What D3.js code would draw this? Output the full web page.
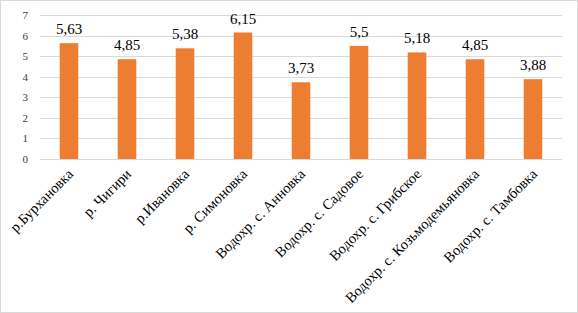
<!DOCTYPE html>
<html>
<head>
<meta charset="utf-8">
<script src="https://cdn.jsdelivr.net/npm/d3@7"></script>
<style>
  body { margin: 0; background: #fff; }
  svg { display: block; }
  svg text { font-family: "Liberation Serif", Tinos, "Times New Roman", "DejaVu Serif", "Noto Serif", serif; }
</style>
</head>
<body>
<script>
var categories = ["р.Бурхановка", "р. Чигири", "р.Ивановка", "р. Симоновка",
  "Водохр. с. Анновка", "Водохр. с. Садовое", "Водохр. с. Грибское",
  "Водохр. с. Козьмодемьяновка", "Водохр. с. Тамбовка"];
var values = [5.63, 4.85, 5.38, 6.15, 3.73, 5.5, 5.18, 4.85, 3.88];
var valueLabels = ["5,63", "4,85", "5,38", "6,15", "3,73", "5,5", "5,18", "4,85", "3,88"];
var yTicks = [0, 1, 2, 3, 4, 5, 6, 7];

var W = 578, H = 313;
var margin = { top: 15, left: 40, right: 16, bottom: 154 };
var width = W - margin.left - margin.right,
    height = H - margin.top - margin.bottom;

var svg = d3.select("body").append("svg")
    .attr("width", W)
    .attr("height", H);

svg.append("rect")
    .attr("x", 0.5).attr("y", 0.5)
    .attr("width", W - 1).attr("height", H - 1)
    .attr("fill", "#fff")
    .attr("stroke", "#d9d9d9");

var g = svg.append("g")
    .attr("transform", "translate(" + margin.left + "," + margin.top + ")");

var x = d3.scaleBand()
    .domain(categories)
    .range([0, width])
    .paddingInner(0.68)
    .paddingOuter(0.34);

var y = d3.scaleLinear()
    .domain([0, 7])
    .range([height, 0]);

// gridlines
g.selectAll(".grid")
    .data(yTicks)
    .enter().append("line")
    .attr("x1", 0).attr("x2", width)
    .attr("y1", function (d) { return Math.round(y(d)) + 0.5; })
    .attr("y2", function (d) { return Math.round(y(d)) + 0.5; })
    .attr("stroke", "#d9d9d9")
    .attr("stroke-width", 1);

// y axis labels
var yAxis = d3.axisLeft(y).tickValues(yTicks).tickFormat(d3.format("d"))
    .tickSize(0).tickPadding(12);
var ya = g.append("g").call(yAxis).attr("font-family", null);
ya.select(".domain").remove();
ya.selectAll("text")
    .style("font-size", "11px")
    .attr("fill", "#404040");

// bars
g.selectAll(".bar")
    .data(values)
    .enter().append("rect")
    .attr("x", function (d, i) { return x(categories[i]); })
    .attr("y", function (d) { return y(d); })
    .attr("width", x.bandwidth())
    .attr("height", function (d) { return height - y(d); })
    .attr("fill", "#ed7d31");

// value labels
g.selectAll(".val")
    .data(values)
    .enter().append("text")
    .attr("x", function (d, i) { return x(categories[i]) + x.bandwidth() / 2; })
    .attr("y", function (d) { return y(d) - 9; })
    .attr("text-anchor", "middle")
    .style("font-size", "15px")
    .attr("fill", "#000")
    .text(function (d, i) { return valueLabels[i]; });

// x axis labels
var xAxis = d3.axisBottom(x).tickSize(0).tickPadding(0);
var xa = g.append("g")
    .attr("transform", "translate(0," + height + ")")
    .call(xAxis)
    .attr("font-family", null);
xa.select(".domain").remove();
xa.selectAll("text")
    .style("font-size", "14.5px")
    .attr("fill", "#000")
    .attr("text-anchor", "end")
    .attr("dy", null)
    .attr("y", 0)
    .attr("transform", "translate(5,16) rotate(-45)");
</script>
</body>
</html>
